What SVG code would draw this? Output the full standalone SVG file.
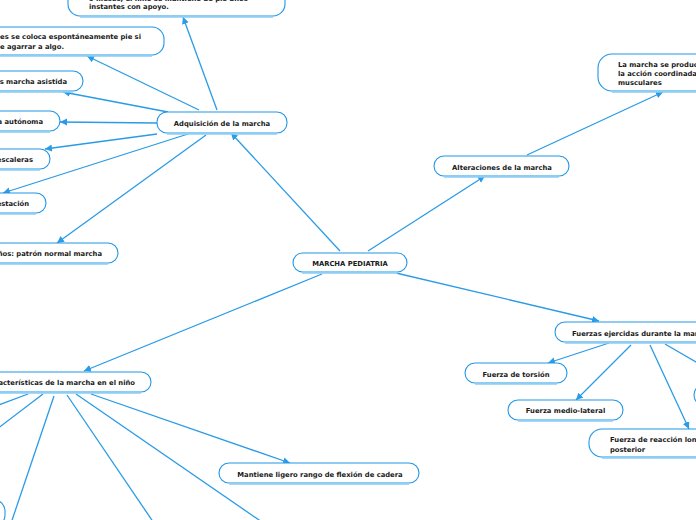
<svg xmlns="http://www.w3.org/2000/svg" width="696" height="520" viewBox="0 0 696 520">
<style>
.n rect{fill:#fff;stroke:#2196e6;stroke-width:1.1}
.n .b{fill:none;stroke:#8ecdf4;stroke-width:2.4}
.n text{font-family:"DejaVu Sans",Verdana,sans-serif;font-weight:bold;font-size:6.8px;fill:#1a1a1a}
.c line{stroke:#2a9be6;stroke-width:1.3}
.a{marker-end:url(#ah)}
.m{text-anchor:middle}
.e{text-anchor:end}
</style>
<defs>
<marker id="ah" markerUnits="userSpaceOnUse" markerWidth="8" markerHeight="8" refX="7" refY="3.5" orient="auto">
<path d="M0,0 L7,3.5 L0,7 z" fill="#2a9be6"/>
</marker>
</defs>
<rect width="696" height="520" fill="#fff"/>
<g class="c">
<line class="a" x1="217" y1="110" x2="183" y2="17"/>
<line class="a" x1="199" y1="110" x2="87" y2="56"/>
<line class="a" x1="168" y1="112" x2="63" y2="92"/>
<line class="a" x1="157" y1="123" x2="60" y2="122"/>
<line class="a" x1="157" y1="134" x2="45" y2="149"/>
<line class="a" x1="188" y1="134" x2="3" y2="193"/>
<line class="a" x1="206" y1="135" x2="57" y2="243"/>
<line class="a" x1="340" y1="251" x2="231" y2="133"/>
<line class="a" x1="368" y1="251" x2="485" y2="176"/>
<line class="a" x1="527" y1="155" x2="663" y2="92"/>
<line class="a" x1="396" y1="273" x2="599" y2="321"/>
<line class="a" x1="322" y1="274" x2="84" y2="371"/>
<line class="a" x1="609" y1="343" x2="548" y2="363"/>
<line class="a" x1="631" y1="345" x2="576" y2="400"/>
<line class="a" x1="650" y1="345" x2="689" y2="429"/>
<line class="a" x1="665" y1="344" x2="720" y2="376"/>
<line x1="28" y1="394" x2="-20" y2="412"/>
<line x1="43" y1="394" x2="-20" y2="442"/>
<line x1="54" y1="396" x2="5" y2="541"/>
<line x1="67" y1="395" x2="160" y2="532"/>
<line x1="76" y1="394" x2="275" y2="531"/>
<line class="a" x1="91" y1="394" x2="290" y2="463"/>
</g>
<g id="n_top" class="n"><rect x="68" y="-30" width="217" height="46" rx="12"/><path class="b" d="M80,16.5 H273"/><text x="89" y="1.2">9 meses, el niño se mantiene de pie unos</text><text x="89" y="9.4">instantes con apoyo.</text></g>
<g id="n_pie" class="n"><rect x="-120" y="27" width="284" height="28" rx="12"/><path class="b" d="M-108,55.5 H152"/><text class="e" x="141" y="38.6">A los 11 meses se coloca espontáneamente pie si</text><text class="e" x="64" y="48.6">puede agarrar a algo.</text></g>
<g id="n_asistida" class="n"><rect x="-120" y="71" width="203" height="20" rx="10"/><path class="b" d="M-110,91.5 H73"/><text class="e" x="67" y="83.5">12 meses marcha asistida</text></g>
<g id="n_autonoma" class="n"><rect x="-120" y="111" width="180" height="20" rx="10"/><path class="b" d="M-110,131.5 H50"/><text class="e" x="43" y="123.5">Marcha autónoma</text></g>
<g id="n_escaleras" class="n"><rect x="-120" y="149" width="170" height="20" rx="10"/><path class="b" d="M-110,169.5 H40"/><text class="e" x="33" y="161.5">Sube escaleras</text></g>
<g id="n_bipedestacion" class="n"><rect x="-120" y="193" width="166" height="20" rx="10"/><path class="b" d="M-110,213.5 H36"/><text class="e" x="29" y="205.5">Bipedestación</text></g>
<g id="n_patron" class="n"><rect x="-120" y="243" width="238" height="20" rx="10"/><path class="b" d="M-110,263.5 H108"/><text class="e" x="102" y="255.5">A los 3 años: patrón normal marcha</text></g>
<g id="n_adquisicion" class="n"><rect x="157" y="112" width="130" height="21" rx="10"/><path class="b" d="M167,133.5 H277"/><text class="m" x="222" y="125.5">Adquisición de la marcha</text></g>
<g id="n_root" class="n"><rect x="293" y="253" width="114" height="19" rx="9.5"/><path class="b" d="M302,272.5 H398"/><text class="m" x="350" y="265.5">MARCHA PEDIATRIA</text></g>
<g id="n_alteraciones" class="n"><rect x="434" y="156" width="135" height="20" rx="10"/><path class="b" d="M444,176.5 H559"/><text class="m" x="502" y="169.5">Alteraciones de la marcha</text></g>
<g id="n_coordinada" class="n"><rect x="598" y="54" width="200" height="37" rx="14"/><path class="b" d="M612,91.5 H784"/><text x="618" y="66.5">La marcha se produce por</text><text x="618" y="75.5">la acción coordinada de grupos</text><text x="618" y="84.5">musculares</text></g>
<g id="n_fuerzas" class="n"><rect x="555" y="322" width="200" height="20" rx="10"/><path class="b" d="M565,342.5 H745"/><text x="572" y="335.5">Fuerzas ejercidas durante la marcha</text></g>
<g id="n_torsion" class="n"><rect x="465" y="363" width="102" height="20" rx="10"/><path class="b" d="M475,383.5 H557"/><text class="m" x="516" y="376.5">Fuerza de torsión</text></g>
<g id="n_medio" class="n"><rect x="508" y="400" width="115" height="20" rx="10"/><path class="b" d="M518,420.5 H613"/><text class="m" x="565.5" y="412.5">Fuerza medio-lateral</text></g>
<g id="n_reaccion" class="n"><rect x="589" y="429" width="200" height="28" rx="13"/><path class="b" d="M602,457.5 H776"/><text x="610" y="441.5">Fuerza de reacción longitudinal antero-</text><text x="610" y="451.5">posterior</text></g>
<g id="n_right" class="n"><rect x="694" y="384" width="120" height="22" rx="11"/></g>
<g id="n_caracteristicas" class="n"><rect x="-120" y="372" width="271" height="20" rx="10"/><path class="b" d="M-110,392.5 H141"/><text class="e" x="135" y="384.5">Características de la marcha en el niño</text></g>
<g id="n_mantiene" class="n"><rect x="219" y="463" width="200" height="20" rx="10"/><path class="b" d="M229,483.5 H409"/><text class="m" x="320" y="476.5">Mantiene ligero rango de flexión de cadera</text></g>
<g id="n_bottomleft" class="n"><rect x="-150" y="500" width="155" height="26" rx="11"/></g>
</svg>
